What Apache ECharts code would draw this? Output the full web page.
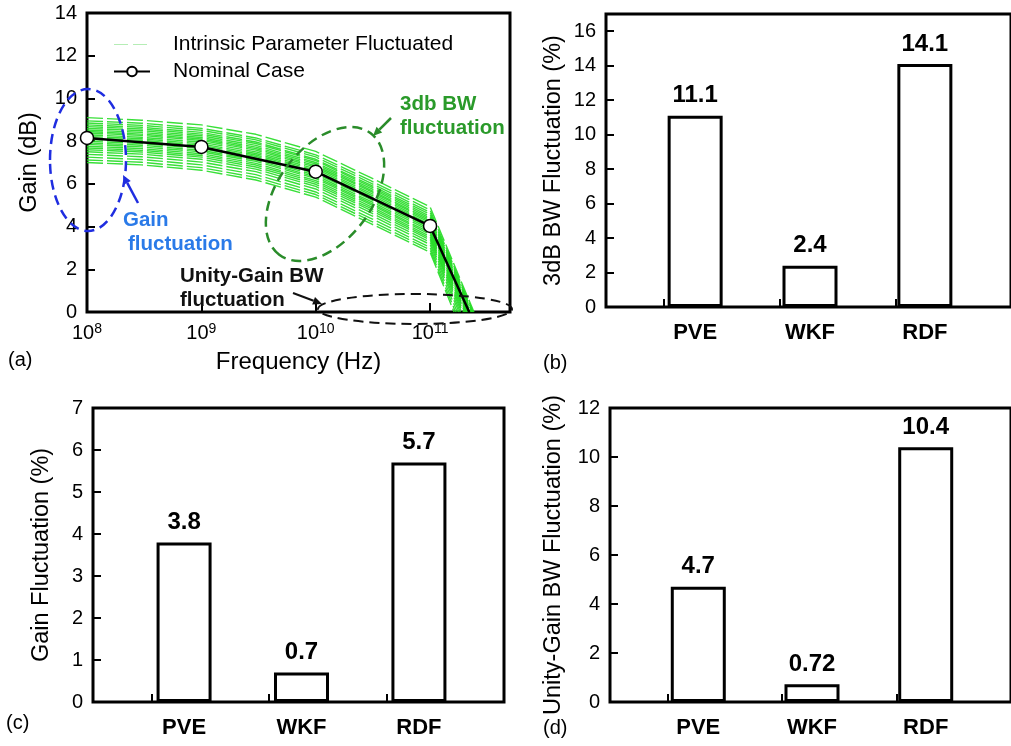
<!DOCTYPE html>
<html><head><meta charset="utf-8">
<script src="https://cdn.jsdelivr.net/npm/echarts@6/dist/echarts.min.js"></script>
<style>html,body{margin:0;padding:0;background:#fff}#c{width:1011px;height:746px}</style>
</head><body><div id="c"></div>
<script>
// ---------- Panel (a) data ----------
const fluctFreqs = [1e8, 3e8, 1e9, 3e9, 1e10, 3e10, 1e11];
const fluctGains = [
  [9.10, 8.98, 8.76, 8.32, 7.52, 6.30, 4.92],
  [8.95, 8.84, 8.60, 8.15, 7.36, 6.16, 4.78],
  [8.85, 8.74, 8.51, 8.06, 7.26, 6.05, 4.66],
  [8.76, 8.65, 8.41, 7.96, 7.15, 5.95, 4.57],
  [8.68, 8.57, 8.33, 7.89, 7.09, 5.88, 4.48],
  [8.60, 8.49, 8.25, 7.80, 7.00, 5.80, 4.40],
  [8.52, 8.41, 8.17, 7.72, 6.93, 5.72, 4.32],
  [8.45, 8.33, 8.10, 7.65, 6.85, 5.66, 4.25],
  [8.38, 8.27, 8.03, 7.58, 6.78, 5.58, 4.18],
  [8.30, 8.18, 7.95, 7.50, 6.70, 5.50, 4.10],
  [8.22, 8.11, 7.87, 7.42, 6.62, 5.42, 4.02],
  [8.15, 8.04, 7.80, 7.35, 6.55, 5.35, 3.95],
  [8.08, 7.97, 7.73, 7.28, 6.48, 5.28, 3.88],
  [8.00, 7.89, 7.65, 7.20, 6.40, 5.19, 3.80],
  [7.92, 7.81, 7.57, 7.12, 6.32, 5.11, 3.71],
  [7.85, 7.73, 7.50, 7.05, 6.25, 5.04, 3.63],
  [7.76, 7.65, 7.41, 6.96, 6.15, 4.95, 3.54],
  [7.68, 7.57, 7.33, 6.88, 6.07, 4.86, 3.46],
  [7.60, 7.49, 7.25, 6.79, 5.98, 4.77, 3.38],
  [7.50, 7.39, 7.15, 6.69, 5.88, 4.66, 3.27],
  [7.38, 7.27, 7.02, 6.57, 5.76, 4.54, 3.16],
  [7.25, 7.14, 6.89, 6.43, 5.62, 4.40, 3.03],
  [7.12, 7.01, 6.76, 6.30, 5.50, 4.27, 2.91],
  [7.00, 6.89, 6.64, 6.18, 5.38, 4.15, 2.80]
];
const fluctUGB = [2.42e11, 2.38e11, 2.35e11, 2.32e11, 2.30e11, 2.27e11, 2.25e11, 2.22e11,
  2.20e11, 2.18e11, 2.15e11, 2.12e11, 2.10e11, 2.07e11, 2.04e11, 2.01e11, 1.97e11, 1.93e11,
  1.89e11, 1.84e11, 1.79e11, 1.73e11, 1.67e11, 1.62e11];
const nominalFreqs = [1e8, 1e9, 1e10, 1e11, 2.2e11];
const nominalGains = [8.15, 7.73, 6.57, 4.03, 0];

// ---------- Panels (b)(c)(d) data ----------
const categories = ['PVE', 'WKF', 'RDF'];
const bw3dBFluct = [11.1, 2.4, 14.1];
const gainFluct = [3.8, 0.7, 5.7];
const ugbFluct = [4.7, 0.72, 10.4];

const FONT = "'Liberation Sans', Arial, Helvetica, sans-serif";
const chart = echarts.init(document.getElementById('c'), null, {renderer: 'canvas'});

// slot axis: a blank half-unit slot before each category, and one at the end
const slots = [];
categories.forEach((c, i) => { slots.push('_' + i); slots.push(c); });
slots.push('_end');
function slotData(vals) {
  const d = [];
  vals.forEach(v => { d.push('-'); d.push(v); });
  d.push('-');
  return d;
}

const grids = [
  {left: 87, top: 13, width: 423, height: 299},   // a
  {left: 606, top: 14, width: 411, height: 293},  // b frame
  {left: 609, top: 14, width: 411, height: 293},  // b bars
  {left: 93, top: 408, width: 411, height: 294},  // c frame
  {left: 96, top: 408, width: 411, height: 294},  // c bars
  {left: 610, top: 408, width: 411, height: 294}, // d frame
  {left: 613, top: 408, width: 411, height: 294}  // d bars
].map((g, i) => Object.assign({
  show: i === 0 || i % 2 === 1,
  borderColor: '#000', borderWidth: 3, backgroundColor: 'transparent',
  containLabel: false
}, g));

const axisLabelBase = {color: '#000', fontFamily: FONT, fontSize: 20};
const nameStyle = {color: '#000', fontFamily: FONT, fontSize: 23.5};

function frameY(gridIndex, max, interval, name, nameGap) {
  return {
    type: 'value', gridIndex, min: 0, max, interval,
    name, nameLocation: 'middle', nameGap, nameRotate: 90, nameTextStyle: nameStyle,
    axisLine: {show: false},
    axisTick: {show: true, inside: true, length: 8, lineStyle: {color: '#000', width: 2}},
    axisLabel: Object.assign({margin: 10, showMaxLabel: max % interval === 0}, axisLabelBase),
    splitLine: {show: false}
  };
}
function hiddenY(gridIndex, max, interval) {
  return {type: 'value', gridIndex, min: 0, max, interval, show: false, splitLine: {show: false}};
}
function frameX(gridIndex) {
  return {
    type: 'category', gridIndex, data: slots, boundaryGap: true,
    axisLine: {show: false},
    axisTick: {show: true, inside: true, length: 8, lineStyle: {color: '#000', width: 2},
      interval: (idx) => idx % 2 === 1},
    axisLabel: {show: false}, splitLine: {show: false}
  };
}
function barX(gridIndex) {
  return {
    type: 'category', gridIndex, data: slots, boundaryGap: true,
    axisLine: {show: false}, axisTick: {show: false},
    axisLabel: {show: true, interval: 0, margin: 15, color: '#000', fontFamily: FONT,
      fontSize: 22, fontWeight: 'bold', formatter: v => v.charAt(0) === '_' ? '' : v},
    splitLine: {show: false}
  };
}

const xAxes = [
  {
    type: 'log', logBase: 10, gridIndex: 0, min: 1e8, max: 5e11, splitNumber: 4,
    name: 'Frequency (Hz)', nameLocation: 'middle', nameGap: 38,
    nameTextStyle: Object.assign({}, nameStyle, {fontSize: 24}),
    axisLine: {show: false},
    axisTick: {show: true, inside: true, length: 9, lineStyle: {color: '#000', width: 2}},
    splitLine: {show: false},
    axisLabel: {
      margin: 10, showMaxLabel: false, color: '#000', fontFamily: FONT,
      formatter: v => {
        const e = Math.log10(v);
        const r = Math.round(e);
        if (Math.abs(e - r) > 0.01) return '';
        return '{b|10}{s|' + r + '}';
      },
      rich: {
        b: {fontSize: 20, fontFamily: FONT, color: '#000', lineHeight: 22},
        s: {fontSize: 14, fontFamily: FONT, color: '#000', lineHeight: 22, verticalAlign: 'top', padding: [0, 0, 8, 0]}
      }
    }
  },
  frameX(1), barX(2), frameX(3), barX(4), frameX(5), barX(6)
];

const yAxes = [
  frameY(0, 14, 2, 'Gain (dB)', 45),
  frameY(1, 17, 2, '3dB BW Fluctuation (%)', 40),
  hiddenY(2, 17, 2),
  frameY(3, 7, 1, 'Gain Fluctuation (%)', 39),
  hiddenY(4, 7, 1),
  frameY(5, 12, 2, 'Unity-Gain BW Fluctuation (%)', 44),
  hiddenY(6, 12, 2)
];

const series = [];
fluctGains.forEach((row, j) => {
  const data = fluctFreqs.map((f, i) => [f, row[i]]);
  data.push([fluctUGB[j], 0]);
  series.push({
    type: 'line', name: 'Intrinsic Parameter Fluctuated', xAxisIndex: 0, yAxisIndex: 0,
    data, symbol: 'none', showSymbol: false, silent: true, z: 2, animation: false,
    lineStyle: {color: '#24dc24', width: 1.4, type: [16, 4], opacity: 0.9},
    itemStyle: {color: '#24dc24'}
  });
});
series.push({
  type: 'line', name: 'Nominal Case', xAxisIndex: 0, yAxisIndex: 0, z: 5, animation: false,
  data: nominalFreqs.map((f, i) => i === nominalFreqs.length - 1
    ? {value: [f, nominalGains[i]], symbol: 'none'} : [f, nominalGains[i]]),
  symbol: 'circle', symbolSize: 13, showSymbol: true,
  lineStyle: {color: '#000', width: 2.5},
  itemStyle: {color: '#fff', borderColor: '#000', borderWidth: 1.5}
});

function bars(xi, vals) {
  return {
    type: 'bar', xAxisIndex: xi, yAxisIndex: xi, data: slotData(vals), barWidth: 55,
    animation: false, z: 3,
    itemStyle: {color: '#fff', borderColor: '#000', borderWidth: 3},
    label: {show: true, position: 'top', distance: 8, color: '#000', fontFamily: FONT,
      fontSize: 24, fontWeight: 'bold', formatter: p => String(p.value)}
  };
}
series.push(bars(2, bw3dBFluct));
series.push(bars(4, gainFluct));
series.push(bars(6, ugbFluct));

// ---------- annotations ----------
function arrow(x1, y1, x2, y2, color, w) {
  const dx = x2 - x1, dy = y2 - y1, L = Math.hypot(dx, dy);
  const ux = dx / L, uy = dy / L, s = 9, h = 4;
  const bx = x2 - ux * s, by = y2 - uy * s;
  return [
    {type: 'line', shape: {x1, y1, x2: bx, y2: by}, style: {stroke: color, lineWidth: w}, z: 20},
    {type: 'polygon', shape: {points: [[x2, y2], [bx - uy * h, by + ux * h], [bx + uy * h, by - ux * h]]},
      style: {fill: color}, z: 20}
  ];
}
function txt(x, y, text, color, font) {
  return {type: 'text', x, y, z: 20,
    style: {text, fill: color, font: font || ('bold 20.5px ' + FONT), align: 'left', verticalAlign: 'middle'}};
}
const graphic = [
  {type: 'ellipse', shape: {cx: 88, cy: 160, rx: 38, ry: 71}, z: 20,
    style: {fill: 'none', stroke: '#1f2de0', lineWidth: 2.5, lineDash: [10, 6]}},
  ...arrow(138, 203, 123, 175, '#1f2de0', 2.5),
  txt(123, 220, 'Gain', '#2a7ae8'),
  txt(128, 244, 'fluctuation', '#2a7ae8'),
  {type: 'ellipse', x: 325, y: 194, rotation: 53 * Math.PI / 180, shape: {cx: 0, cy: 0, rx: 76, ry: 47}, z: 20,
    style: {fill: 'none', stroke: '#2a8c2a', lineWidth: 2.5, lineDash: [10, 6]}},
  ...arrow(391, 118, 373, 136, '#2a8c2a', 2.5),
  txt(400, 104, '3db BW', '#2a9a2a'),
  txt(400, 128, 'fluctuation', '#2a9a2a'),
  {type: 'ellipse', shape: {cx: 415, cy: 309, rx: 97, ry: 15}, z: 20,
    style: {fill: 'none', stroke: '#111', lineWidth: 2, lineDash: [10, 6]}},
  ...arrow(293, 293, 322, 304, '#111', 2),
  txt(180, 276, 'Unity-Gain BW', '#111'),
  txt(180, 300, 'fluctuation', '#111'),
  txt(8, 360, '(a)', '#000', '20px ' + FONT),
  txt(543, 363, '(b)', '#000', '20px ' + FONT),
  txt(6, 723, '(c)', '#000', '20px ' + FONT),
  txt(543, 728, '(d)', '#000', '20px ' + FONT)
];

chart.setOption({
  animation: false,
  backgroundColor: '#fff',
  textStyle: {fontFamily: FONT},
  grid: grids,
  xAxis: xAxes,
  yAxis: yAxes,
  legend: {
    show: true, orient: 'vertical', left: 108, top: 29, itemWidth: 36, itemHeight: 12, itemGap: 6,
    data: [
      {name: 'Intrinsic Parameter Fluctuated', itemStyle: {opacity: 0},
        lineStyle: {color: '#b5edb5', width: 1.2, type: [14, 5], opacity: 1}},
      {name: 'Nominal Case'}
    ],
    textStyle: {fontFamily: FONT, fontSize: 21, color: '#000', padding: [0, 0, 0, 18]},
    selectedMode: false
  },
  series,
  graphic
});
</script></body></html>
